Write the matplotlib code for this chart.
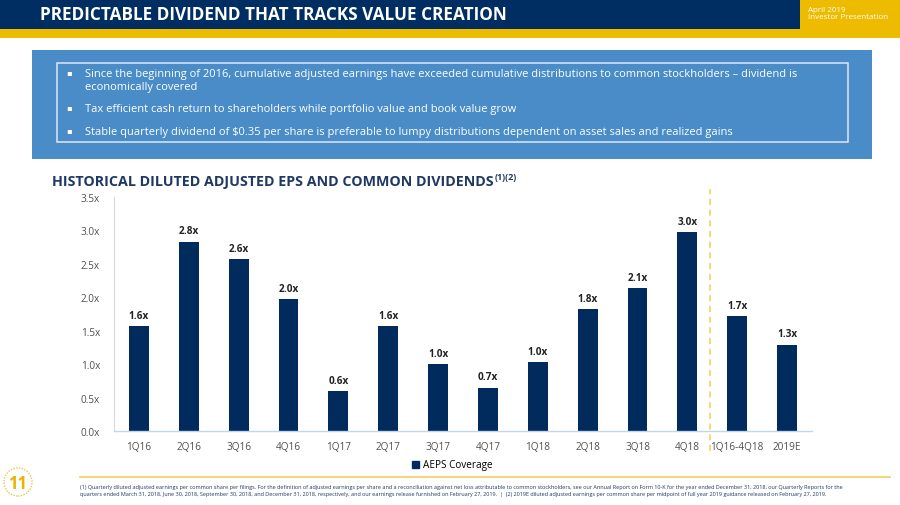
import matplotlib
matplotlib.use("Agg")
import matplotlib.pyplot as plt
from matplotlib.patches import Rectangle, Ellipse
from matplotlib.lines import Line2D

plt.rcParams['font.family'] = ['Open Sans', 'DejaVu Sans']

# data
quarters = ['1Q16', '2Q16', '3Q16', '4Q16', '1Q17', '2Q17', '3Q17',
            '4Q17', '1Q18', '2Q18', '3Q18', '4Q18', '1Q16-4Q18', '2019E']
coverage = [1.57, 2.83, 2.57, 1.97, 0.60, 1.57, 1.00,
            0.65, 1.03, 1.82, 2.14, 2.97, 1.72, 1.29]
bar_labels = ['1.6x', '2.8x', '2.6x', '2.0x', '0.6x', '1.6x', '1.0x',
              '0.7x', '1.0x', '1.8x', '2.1x', '3.0x', '1.7x', '1.3x']
yticks = [0, 0.5, 1.0, 1.5, 2.0, 2.5, 3.0, 3.5]

bullets = [
    "Since the beginning of 2016, cumulative adjusted earnings have exceeded cumulative distributions to common stockholders \u2013 dividend is\neconomically covered",
    "Tax efficient cash return to shareholders while portfolio value and book value grow",
    "Stable quarterly dividend of $0.35 per share is preferable to lumpy distributions dependent on asset sales and realized gains",
]
footnote1 = ("(1) Quarterly diluted adjusted earnings per common share per filings. For the definition of adjusted earnings per share and a "
             "reconciliation against net loss attributable to common stockholders, see our Annual Report on Form 10-K for the year ended "
             "December 31, 2018, our Quarterly Reports for the")
footnote2 = ("quarters ended March 31, 2018, June 30, 2018, September 30, 2018, and December 31, 2018, respectively, and our earnings release "
             "furnished on February 27, 2019.  |  (2) 2019E diluted adjusted earnings per common share per midpoint of full year 2019 "
             "guidance released on February 27, 2019.")

NAVY = '#002B5C'
GOLD = '#EDBB00'
BLUE = '#4A8CC8'

W, H = 900, 506
fig = plt.figure(figsize=(9, 5.06), dpi=100)


def fx(x):
    return x / W


def fy(y):
    return 1 - y / H


def box(x0, y0, x1, y1, **kw):
    fig.patches.append(Rectangle((fx(x0), fy(y1)), fx(x1 - x0), (y1 - y0) / H,
                                 transform=fig.transFigure, **kw))


# header
box(0, 0, 900, 39, color=GOLD, lw=0)
box(0, 0, 800, 30, color='#002D62', lw=0)
fig.text(fx(40), fy(15), 'PREDICTABLE DIVIDEND THAT TRACKS VALUE CREATION',
         color='white', fontsize=12.3, fontweight='bold', va='center', ha='left')
fig.text(fx(808), fy(14), 'April 2019\nInvestor Presentation', color='white',
         fontsize=5.8, va='center', ha='left', linespacing=1.15)

# bullet box
box(32, 51, 872, 160, color=BLUE, lw=0)
box(57, 64, 848, 143, facecolor='none', edgecolor='#DCE8F4', lw=1.1)
bullet_y = [74, 109, 132]
for by, txt in zip(bullet_y, bullets):
    fig.text(fx(66), fy(by), '\u25aa', color='white', fontsize=6, va='center')
    fig.text(fx(85), fy(by - 5), txt, color='white', fontsize=8.0, va='top',
             ha='left', linespacing=1.25)

# section title with superscript note marks
title = fig.text(fx(52), fy(182), 'HISTORICAL DILUTED ADJUSTED EPS AND COMMON DIVIDENDS',
                 color='#1F3864', fontsize=10.3, fontweight='bold', va='center')
fig.canvas.draw()
bb = title.get_window_extent().transformed(fig.transFigure.inverted())
fig.text(bb.x1 + fx(1), bb.y1 + 2 / H, '(1)(2)', color='#1F3864',
         fontsize=6.5, fontweight='bold', va='top', ha='left')

# chart
ax = fig.add_axes([fx(114), fy(432), fx(812 - 114), (432 - 198) / H])
x = list(range(len(quarters)))
bars = ax.bar(x, coverage, width=0.4, color=NAVY, zorder=2)
for rect, lab in zip(bars, bar_labels):
    ax.text(rect.get_x() + rect.get_width() / 2, rect.get_height() + 0.08, lab,
            ha='center', va='bottom', fontsize=7.2, fontweight='bold', color='#222222')
ax.set_xlim(-0.5, len(quarters) - 0.5)
ax.set_ylim(0, 3.5)
ax.set_yticks(yticks)
ax.set_yticklabels([f'{v:.1f}x' for v in yticks])
ax.set_xticks(x)
ax.set_xticklabels(quarters)
ax.tick_params(axis='both', labelsize=7.2, colors='#505050', length=0)
ax.tick_params(axis='x', pad=7)
ax.tick_params(axis='y', pad=10)
for s in ['top', 'right']:
    ax.spines[s].set_visible(False)
ax.spines['left'].set_color('#D9D9D9')
ax.spines['bottom'].set_color('#BDD7EE')
ax.spines['left'].set_linewidth(0.8)
ax.spines['bottom'].set_linewidth(1.0)

# separator between quarterly and aggregate bars
ax.plot([11.45, 11.45], [-0.085, 1.034], transform=ax.get_xaxis_transform(),
        color='#F2D050', lw=1.1, ls=(0, (4, 3)), clip_on=False, zorder=3)

# legend
ax.legend([Rectangle((0, 0), 1, 1, color=NAVY)], ['AEPS Coverage'],
          loc='center', bbox_to_anchor=(fx(452), fy(466)),
          bbox_transform=fig.transFigure, frameon=False, fontsize=7.2,
          handlelength=0.7, handleheight=0.7, handletextpad=0.4)

# footer
fig.lines.append(Line2D([fx(80), fx(890)], [fy(478), fy(478)],
                        transform=fig.transFigure, color='#F2D060', lw=1.2))
fig.text(fx(80), fy(488), footnote1, fontsize=3.95, color='#1F3864', va='center')
fig.text(fx(80), fy(495), footnote2, fontsize=3.95, color='#1F3864', va='center')

# page badge
fig.patches.append(Ellipse((fx(18), fy(483)), 28 / W, 28 / H, transform=fig.transFigure,
                           facecolor='white', edgecolor='#E6C84A', lw=1.0, ls=(0, (1, 1))))
fig.text(fx(18), fy(484), '11', color='#E8B400', fontsize=12, fontweight='bold',
         ha='center', va='center')

fig.savefig('out.png', dpi=100)
